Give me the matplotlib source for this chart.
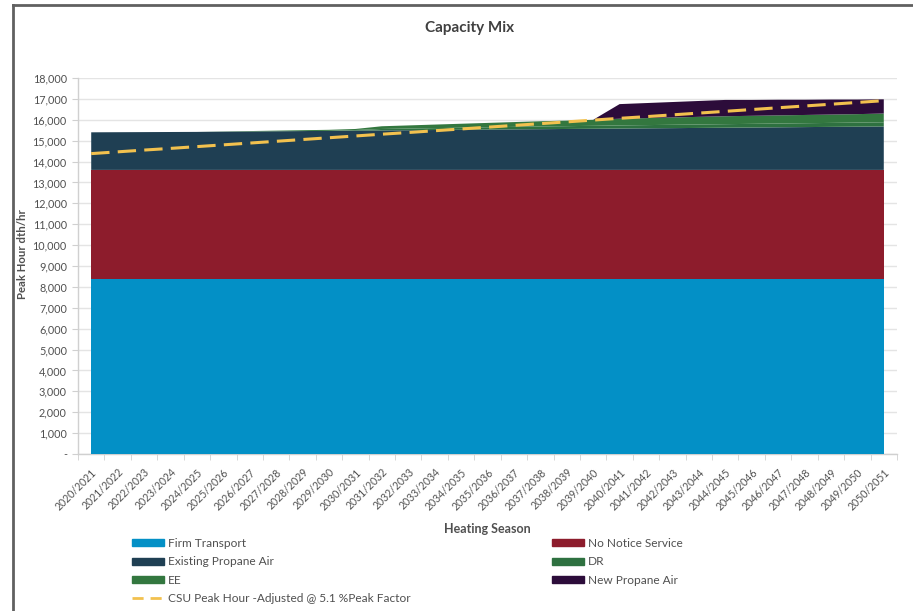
import numpy as np
import matplotlib.pyplot as plt
from matplotlib.lines import Line2D
from matplotlib.patches import Patch

seasons = ["2020/2021", "2021/2022", "2022/2023", "2023/2024", "2024/2025", "2025/2026",
           "2026/2027", "2027/2028", "2028/2029", "2029/2030", "2030/2031", "2031/2032",
           "2032/2033", "2033/2034", "2034/2035", "2035/2036", "2036/2037", "2037/2038",
           "2038/2039", "2039/2040", "2040/2041", "2041/2042", "2042/2043", "2043/2044",
           "2044/2045", "2045/2046", "2046/2047", "2047/2048", "2048/2049", "2049/2050",
           "2050/2051"]

firm_transport = [8400] * 31
no_notice = [5200] * 31
existing_propane = [1800, 1805, 1810, 1815, 1820, 1830, 1840, 1850, 1860, 1870, 1880,
                    1890, 1900, 1910, 1920, 1930, 1940, 1950, 1960, 1970, 1980, 1990,
                    2000, 2010, 2020, 2030, 2040, 2050, 2060, 2070, 2080]
dr = [0, 0, 0, 0, 0, 0, 0, 0, 0, 0, 30, 70, 80, 90, 100, 110, 120, 130, 135, 140, 150,
      155, 160, 165, 170, 175, 180, 185, 190, 195, 200]
ee = [0, 0, 0, 0, 0, 10, 20, 30, 40, 50, 50, 130, 150, 170, 190, 210, 230, 250, 265,
      290, 320, 335, 350, 365, 380, 385, 390, 395, 400, 405, 420]
new_propane = [0, 0, 0, 0, 0, 0, 0, 0, 0, 0, 0, 0, 0, 0, 0, 0, 0, 0, 0, 0, 700, 720,
               740, 760, 780, 760, 750, 730, 720, 700, 680]
csu_peak = [14380, 14465, 14550, 14630, 14715, 14800, 14885, 14970, 15055, 15140, 15225,
            15310, 15390, 15475, 15560, 15645, 15730, 15815, 15900, 15985, 16070, 16150,
            16235, 16320, 16405, 16490, 16575, 16660, 16745, 16830, 16915]

names = ["Firm Transport", "No Notice Service", "Existing Propane Air", "DR", "EE",
         "New Propane Air"]
colors = ["#0390C6", "#8D1C2C", "#1F3F53", "#2E7140", "#33773F", "#2C0C3A"]
line_color = "#F2C14E"
txt = "#505050"

plt.rcParams['font.family'] = ['Lato', 'DejaVu Sans']

fig = plt.figure(figsize=(9.13, 6.11), dpi=100)
ax = fig.add_axes([78 / 913, 1 - 454 / 611, (897 - 78) / 913, (454 - 78) / 611])

x = np.arange(len(seasons))
ax.stackplot(x, firm_transport, no_notice, existing_propane, dr, ee, new_propane,
             colors=colors, linewidth=0, zorder=3)
ax.plot(x, csu_peak, color=line_color, linewidth=2.2, dashes=(6, 2.7), zorder=4)

ax.set_xlim(-0.5, len(seasons) - 0.5)
ax.set_ylim(0, 18000)
ax.set_yticks(np.arange(0, 18001, 1000))
ax.set_yticklabels(["-"] + [f"{v:,}" for v in range(1000, 18001, 1000)],
                   fontsize=7.8, color=txt)
ax.grid(axis="y", color="#E4E4E4", linewidth=1, zorder=0)
ax.set_xticks(x)
ax.set_xticklabels(seasons, rotation=45, ha="right", rotation_mode="anchor",
                   fontsize=7.6, color=txt)
ax.set_xticks(np.arange(-0.5, len(seasons), 1), minor=True)
ax.tick_params(axis="x", which="major", length=0, pad=9)
ax.tick_params(axis="x", which="minor", length=4, color="#D0D0D0", direction="out")
ax.tick_params(axis="y", length=4, color="#D0D0D0", direction="out", pad=4)
for side in ["top", "right"]:
    ax.spines[side].set_visible(False)
for side in ["left", "bottom"]:
    ax.spines[side].set_color("#D0D0D0")
    ax.spines[side].set_linewidth(1)

fig.text(23 / 913, 1 - 254 / 611, "Peak Hour dth/hr", rotation=90, ha="center",
         va="center", fontsize=8.2, color=txt, fontweight="bold")
ax.set_xlabel("Heating Season", fontsize=9, color=txt, fontweight="bold", labelpad=8)
fig.text(470 / 913, 1 - 28 / 611, "Capacity Mix", ha="center", va="center",
         fontsize=11, color="#404040", fontweight="bold")

# chart frame (cropped border)
fig.add_artist(Line2D([13 / 913, 13 / 913], [0, 1 - 5 / 611], color="#606060",
                      linewidth=2, transform=fig.transFigure))
fig.add_artist(Line2D([13 / 913, 1], [1 - 5 / 611, 1 - 5 / 611], color="#606060",
                      linewidth=2, transform=fig.transFigure))

h = [Patch(color=c) for c in colors]
csu_h = Line2D([], [], color=line_color, linewidth=2, dashes=(4, 2.5))
leg_kw = dict(frameon=False, fontsize=8.6, labelcolor=txt, handlelength=2.7,
              handleheight=0.5, handletextpad=0.3, labelspacing=0.62,
              borderaxespad=0, borderpad=0)
fig.legend([h[0], h[2], h[4], csu_h],
           [names[0], names[2], names[4], "CSU Peak Hour -Adjusted @ 5.1 %Peak Factor"],
           loc="upper left", bbox_to_anchor=(132 / 913, 1 - 538 / 611), **leg_kw)
fig.legend([h[1], h[3], h[5]], [names[1], names[3], names[5]],
           loc="upper left", bbox_to_anchor=(552 / 913, 1 - 538 / 611), **leg_kw)

plt.savefig("out.png", dpi=100)
